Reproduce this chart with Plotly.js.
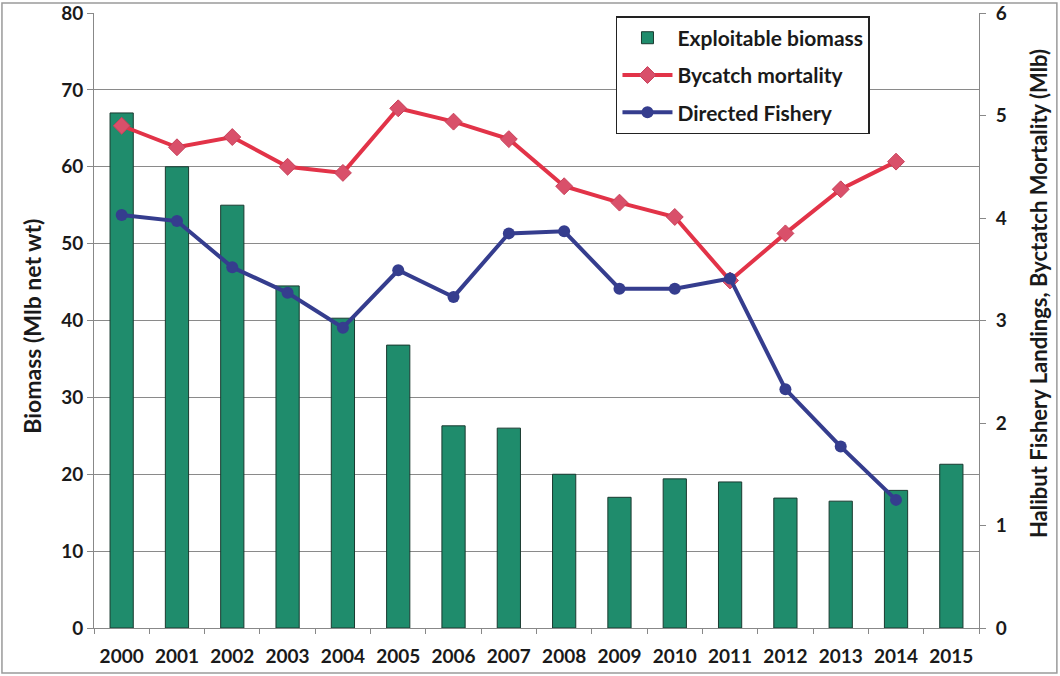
<!DOCTYPE html>
<html>
<head>
<meta charset="utf-8">
<script src="https://cdn.plot.ly/plotly-3.0.1.min.js"></script>
<style>
html,body{margin:0;padding:0;background:#fff;}
#chart{width:1060px;height:676px;}
</style>
</head>
<body>
<div id="chart"></div>
<script>
const years = ["2000","2001","2002","2003","2004","2005","2006","2007","2008","2009","2010","2011","2012","2013","2014","2015"];
const biomass = [67.0, 60.0, 55.0, 44.5, 40.3, 36.8, 26.3, 26.0, 20.0, 17.0, 19.4, 19.0, 16.9, 16.5, 17.9, 21.3];
const bycatchYears = ["2000","2001","2002","2003","2004","2005","2006","2007","2008","2009","2010","2011","2012","2013","2014"];
const bycatch = [4.90, 4.69, 4.79, 4.50, 4.44, 5.07, 4.94, 4.77, 4.31, 4.15, 4.01, 3.39, 3.85, 4.28, 4.55];
const directed = [4.03, 3.97, 3.52, 3.27, 2.93, 3.49, 3.23, 3.85, 3.87, 3.31, 3.31, 3.41, 2.33, 1.77, 1.25];

const leftTitle = "Biomass (Mlb net wt)";
const rightTitle = "Halibut Fishery Landings, Byctatch Mortality (Mlb)";

const fontFam = "Lato, 'Open Sans', sans-serif";

const traces = [
  {type:"bar", x:years, y:biomass, name:"Exploitable biomass", legendgroup:"a",
   marker:{color:"#1f8c6c", line:{color:"#1a3a30", width:1}}, yaxis:"y"},
  {type:"scatter", mode:"lines+markers", x:bycatchYears, y:bycatch, name:"Bycatch mortality", legendgroup:"b",
   line:{color:"#e23348", width:4}, marker:{symbol:"diamond", size:13, color:"#d9506a", line:{color:"#c8405a", width:1}}, yaxis:"y2"},
  {type:"scatter", mode:"lines+markers", x:bycatchYears, y:directed, name:"Directed Fishery", legendgroup:"c",
   line:{color:"#353d8e", width:4}, marker:{symbol:"circle", size:12, color:"#353d8e"}, yaxis:"y2"}
];

const layout = {
  width:1060, height:676,
  margin:{l:94, r:81, t:13, b:48},
  paper_bgcolor:"#fff", plot_bgcolor:"#fff",
  font:{family:fontFam, size:19, color:"#1a1a1a"},
  bargap:0.58,
  showlegend:true,
  legend:{x:0.5898, y:0.995, xanchor:"left", yanchor:"top", bordercolor:"#222", borderwidth:1.5,
          bgcolor:"#fff", font:{size:21, family:fontFam, color:"#1a1a1a", weight:"bold"}, tracegroupgap:7, itemwidth:50},
  xaxis:{type:"category", range:[-0.5, 15.5], automargin:false, showline:true, linecolor:"#888", linewidth:1, ticks:"outside", tickson:"boundaries",
         ticklen:5, tickcolor:"#888", tickfont:{size:19, weight:"bold"}, ticklabelstandoff:11, showgrid:false, zeroline:false},
  yaxis:{range:[0,80], dtick:10, automargin:false, showline:true, linecolor:"#888", ticks:"outside", ticklen:6, tickcolor:"#888",
         showgrid:true, gridcolor:"#8a8a8a", gridwidth:1, zeroline:false, tickfont:{size:19, weight:"bold"}},
  yaxis2:{range:[0,6], dtick:1, automargin:false, overlaying:"y", side:"right", showline:true, linecolor:"#888", ticks:"outside",
          ticklen:6, tickcolor:"#888", ticklabelstandoff:6, showgrid:false, zeroline:false, tickfont:{size:19, weight:"bold"}},
  annotations:[
    {text:leftTitle, xref:"paper", yref:"paper", x:-0.070, y:0.49, textangle:-90, showarrow:false,
     xanchor:"center", yanchor:"middle", font:{size:23, weight:"bold", color:"#1a1a1a"}},
    {text:rightTitle, xref:"paper", yref:"paper", x:1.0667, y:0.543, textangle:-90, showarrow:false,
     xanchor:"center", yanchor:"middle", font:{size:22, weight:"bold", color:"#1a1a1a"}}
  ],
  shapes:[
    {type:"rect", xref:"paper", yref:"paper", x0:-0.104, x1:1.088, y0:-0.0732, y1:1.0163,
     line:{color:"#9a9a9a", width:1.5}, layer:"below"}
  ]
};

Plotly.newPlot("chart", traces, layout, {displayModeBar:false, staticPlot:true});
</script>
</body>
</html>
